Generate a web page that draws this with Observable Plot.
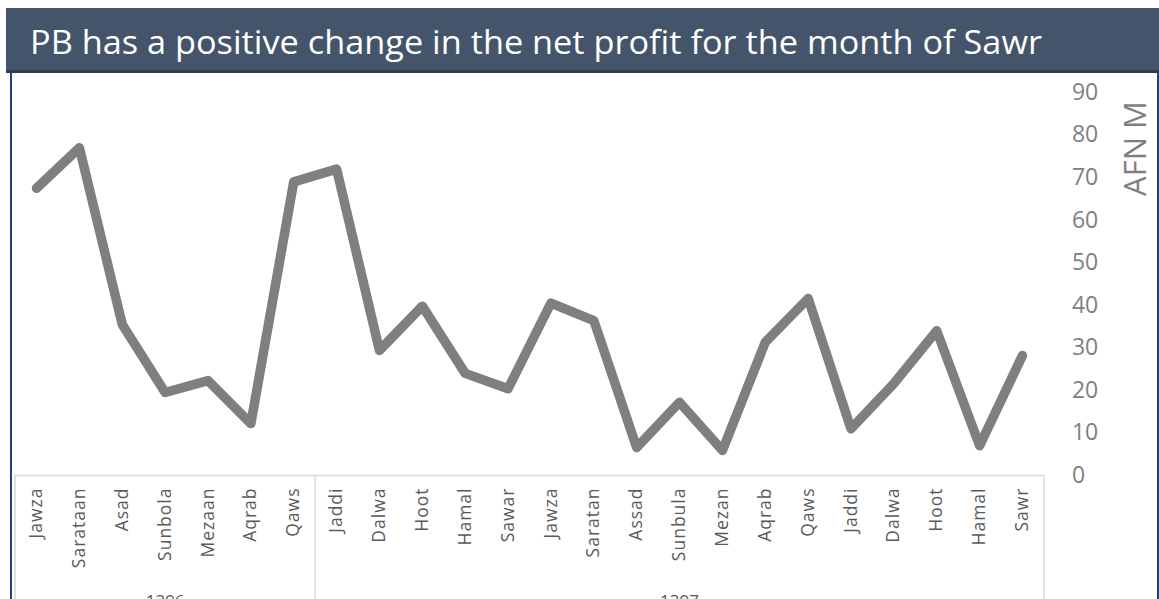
<!DOCTYPE html>
<html>
<head>
<meta charset="utf-8">
<script src="https://cdn.jsdelivr.net/npm/d3@7"></script>
<script src="https://cdn.jsdelivr.net/npm/@observablehq/plot@0.6"></script>
<style>
  html, body { margin:0; padding:0; background:#fff; overflow:hidden; width:1159px; height:599px; }
  #wrap { position:relative; width:1159px; height:599px; }
  #chart { position:absolute; left:0; top:0; }
  #title { position:absolute; left:6px; top:8px; width:1153px; height:62px; background:#44546a;
           border-bottom:3px solid #2e3d55; z-index:2; box-sizing:content-box; }
  #title span { position:absolute; left:24px; top:14px; font-family:"Open Sans", sans-serif; font-size:32px;
           color:#fff; white-space:nowrap; transform-origin:left center; line-height:40px; }
  #frame { position:absolute; left:10px; top:73px; width:1145px; height:540px;
           border-left:2px solid #23407a; border-right:2px solid #23407a; z-index:1; pointer-events:none; }
</style>
</head>
<body>
<div id="wrap">
  <div id="title"><span id="ttext">PB has a positive change in the net profit for the month of Sawr</span></div>
  <div id="frame"></div>
  <div id="chart"></div>
</div>
<script>
const months = ["Jawza","Sarataan","Asad","Sunbola","Mezaan","Aqrab","Qaws",
  "Jaddi","Dalwa","Hoot","Hamal","Sawar","Jawza","Saratan","Assad","Sunbula","Mezan",
  "Aqrab","Qaws","Jaddi","Dalwa","Hoot","Hamal","Sawr"];
const profit = [67.5,77,35.5,19.5,22.3,12.2,69,72,29.4,39.8,24,20.4,40.5,36.4,6.6,17.2,
  5.9,31.3,41.6,11,21.6,34,7,28.2];
const years = ["1396","1397"];
const yearCounts = [7,17];
const yTicks = [0,10,20,30,40,50,60,70,80,90];
const yLabel = "AFN M";

// group boundaries and centers (in category-index units)
const bounds = [-0.5];
const centers = [];
let start = 0;
yearCounts.forEach(c => { centers.push(start + (c - 1) / 2); start += c; bounds.push(start - 0.5); });

const W = 1159, H = 599, mT = 92, mB = 124, mL = 14.6, mR = 115.6;
const frameH = H - mT - mB;

const plot = Plot.plot({
  width: W, height: H,
  marginTop: mT, marginBottom: mB, marginLeft: mL, marginRight: mR,
  style: { background: "transparent", fontFamily: "'Open Sans', sans-serif", overflow: "hidden" },
  x: { type: "linear", domain: [-0.5, months.length - 0.5] },
  y: { domain: [0, 90] },
  marks: [
    Plot.ruleY([0], { x1: bounds[0], x2: bounds[bounds.length - 1], stroke: "#d9d9d9", strokeWidth: 1.5 }),
    Plot.ruleX(bounds, { stroke: "#d9d9d9", strokeWidth: 1.5, insetTop: frameH, insetBottom: -140 }),
    Plot.lineY(profit, { x: (d, i) => i, y: d => d, stroke: "#7f7f7f", strokeWidth: 9.5,
      strokeLinejoin: "round", strokeLinecap: "round" }),
    Plot.axisY({ anchor: "right", ticks: yTicks, tickSize: 0, tickPadding: 28, fontSize: 23,
      fill: "#808080", label: null }),
    Plot.axisX({ anchor: "bottom", ticks: d3.range(months.length), tickFormat: i => months[i],
      tickRotate: -90, tickSize: 0, tickPadding: 12, fontSize: 17.5, fill: "#595959", label: null }),
    Plot.text([yLabel], { frameAnchor: "top-right", dx: 92.6, dy: 56, rotate: -90,
      textAnchor: "middle", lineAnchor: "middle", fontSize: 31, fill: "#7f7f7f" }),
    Plot.text(years, { x: (d, i) => centers[i], frameAnchor: "bottom", dy: 119, lineAnchor: "top",
      fontSize: 17, fill: "#595959" })
  ]
});
document.getElementById("chart").appendChild(plot);
d3.select(plot).selectAll('g[aria-label="x-axis tick label"] text').style("letter-spacing", "1px");

// fit title width to reference
const t = document.getElementById("ttext");
const w = t.getBoundingClientRect().width;
t.style.transform = `scaleX(${1012 / w})`;
</script>
</body>
</html>
